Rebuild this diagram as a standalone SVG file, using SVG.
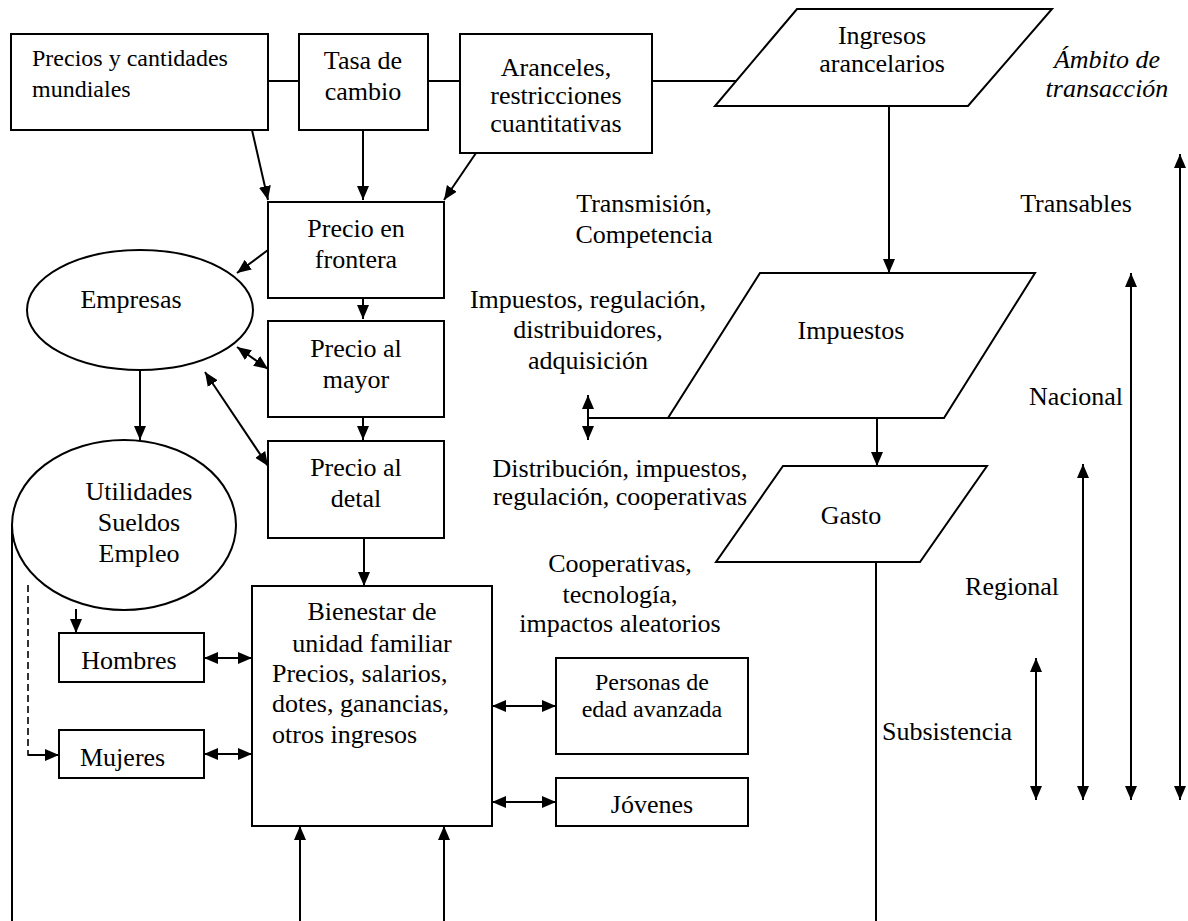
<svg xmlns="http://www.w3.org/2000/svg" width="1188" height="921" viewBox="0 0 1188 921">
<style>
  .box { fill: #fff; stroke: #000; stroke-width: 2; }
  .ln { fill: none; stroke: #000; stroke-width: 2; }
  .arr { fill: none; stroke: #000; stroke-width: 2; marker-end: url(#ah); }
  .dbl { fill: none; stroke: #000; stroke-width: 2; marker-start: url(#ah); marker-end: url(#ah); }
  .dash { fill: none; stroke: #000; stroke-width: 1.6; stroke-dasharray: 7 4; }
  text { font-family: "Liberation Serif", "Times New Roman", serif; font-size: 26px; fill: #000; }
  .c { text-anchor: middle; }
  .sm { font-size: 24px; }
  .it { font-style: italic; }
</style>
<defs>
  <marker id="ah" markerUnits="userSpaceOnUse" markerWidth="15" markerHeight="13" refX="14" refY="6" orient="auto-start-reverse">
    <path d="M0,0 L14,6 L0,12 z" fill="#000"/>
  </marker>
</defs>

<g id="connectors">
  <line class="ln" x1="268" y1="81" x2="299" y2="81"/>
  <line class="ln" x1="428" y1="81" x2="460" y2="81"/>
  <line class="ln" x1="652" y1="81" x2="736" y2="81"/>
  <line class="arr" x1="252" y1="130" x2="268" y2="200"/>
  <line class="arr" x1="363" y1="130" x2="363" y2="200"/>
  <line class="arr" x1="476" y1="153" x2="444" y2="200"/>
  <line class="arr" x1="268" y1="250" x2="237" y2="273"/>
  <line class="arr" x1="363" y1="297" x2="363" y2="319"/>
  <line class="dbl" x1="237" y1="347" x2="268" y2="369"/>
  <line class="arr" x1="363" y1="417" x2="363" y2="440"/>
  <line class="dbl" x1="205" y1="372" x2="268" y2="466"/>
  <line class="arr" x1="140" y1="370" x2="140" y2="440"/>
  <line class="arr" x1="364" y1="538" x2="364" y2="586"/>
  <line class="ln" x1="12" y1="525" x2="12" y2="921"/>
  <polyline class="dash" points="28,585 28,755 42,755"/>
  <line class="arr" x1="28" y1="755" x2="59" y2="755"/>
  <line class="arr" x1="76" y1="609" x2="76" y2="633"/>
  <line class="dbl" x1="204" y1="658" x2="252" y2="658"/>
  <line class="dbl" x1="204" y1="754" x2="252" y2="754"/>
  <line class="dbl" x1="492" y1="706" x2="556" y2="706"/>
  <line class="dbl" x1="492" y1="802" x2="556" y2="802"/>
  <line class="arr" x1="300" y1="921" x2="300" y2="826"/>
  <line class="arr" x1="444" y1="921" x2="444" y2="826"/>
  <line class="arr" x1="889" y1="106" x2="889" y2="273"/>
  <line class="ln" x1="588" y1="418" x2="668" y2="418"/>
  <line class="dbl" x1="588" y1="395" x2="588" y2="440"/>
  <line class="arr" x1="877" y1="418" x2="877" y2="466"/>
  <line class="ln" x1="876" y1="562" x2="876" y2="921"/>
  <line class="dbl" x1="1180" y1="154" x2="1180" y2="800"/>
  <line class="dbl" x1="1131" y1="273" x2="1131" y2="800"/>
  <line class="dbl" x1="1083" y1="464" x2="1083" y2="800"/>
  <line class="dbl" x1="1036" y1="658" x2="1036" y2="800"/>
</g>

<g id="n-mundiales">
  <rect class="box" x="11" y="34" width="257" height="96"/>
  <text class="sm" x="32" y="66">Precios y cantidades</text>
  <text class="sm" x="32" y="97">mundiales</text>
</g>
<g id="n-tasa">
  <rect class="box" x="299" y="34" width="129" height="96"/>
  <text class="c" x="363" y="69">Tasa de</text>
  <text class="c" x="363" y="100">cambio</text>
</g>
<g id="n-aranceles">
  <rect class="box" x="460" y="34" width="192" height="119"/>
  <text class="c" x="556" y="76">Aranceles,</text>
  <text class="c" x="556" y="104">restricciones</text>
  <text class="c" x="556" y="132">cuantitativas</text>
</g>
<g id="n-ingresos">
  <polygon class="box" points="797,9 1052,9 968,106 715,106"/>
  <text class="c" x="882" y="44">Ingresos</text>
  <text class="c" x="882" y="72">arancelarios</text>
</g>
<g id="l-ambito">
  <text class="c it" x="1107" y="68">Ámbito de</text>
  <text class="c it" x="1107" y="97">transacción</text>
</g>
<g id="n-frontera">
  <rect class="box" x="268" y="202" width="176" height="96"/>
  <text class="c" x="356" y="237">Precio en</text>
  <text class="c" x="356" y="268">frontera</text>
</g>
<g id="n-mayor">
  <rect class="box" x="268" y="321" width="176" height="96"/>
  <text class="c" x="356" y="357">Precio al</text>
  <text class="c" x="356" y="388">mayor</text>
</g>
<g id="n-detal">
  <rect class="box" x="268" y="441" width="176" height="97"/>
  <text class="c" x="356" y="476">Precio al</text>
  <text class="c" x="356" y="507">detal</text>
</g>
<g id="n-empresas">
  <ellipse class="box" cx="140" cy="310" rx="113" ry="60"/>
  <text class="c" x="131" y="308">Empresas</text>
</g>
<g id="n-utilidades">
  <ellipse class="box" cx="124" cy="525" rx="112" ry="85"/>
  <text class="c" x="139" y="500">Utilidades</text>
  <text class="c" x="139" y="531">Sueldos</text>
  <text class="c" x="139" y="562">Empleo</text>
</g>
<g id="n-hombres">
  <rect class="box" x="59" y="633" width="145" height="49"/>
  <text class="c" x="129" y="669">Hombres</text>
</g>
<g id="n-mujeres">
  <rect class="box" x="59" y="730" width="145" height="48"/>
  <text x="80" y="766">Mujeres</text>
</g>
<g id="n-bienestar">
  <rect class="box" x="252" y="586" width="240" height="240"/>
  <text class="c" x="372" y="620">Bienestar de</text>
  <text class="c" x="372" y="652">unidad familiar</text>
  <text x="272" y="682">Precios, salarios,</text>
  <text x="272" y="712">dotes, ganancias,</text>
  <text x="272" y="743">otros ingresos</text>
</g>
<g id="n-personas">
  <rect class="box" x="556" y="658" width="192" height="96"/>
  <text class="c sm" x="652" y="690">Personas de</text>
  <text class="c sm" x="652" y="717">edad avanzada</text>
</g>
<g id="n-jovenes">
  <rect class="box" x="556" y="778" width="192" height="48"/>
  <text class="c" x="652" y="813">Jóvenes</text>
</g>
<g id="n-impuestos">
  <polygon class="box" points="760,273 1035,273 944,418 668,418"/>
  <text class="c" x="851" y="339">Impuestos</text>
</g>
<g id="n-gasto">
  <polygon class="box" points="783,466 987,466 920,562 716,562"/>
  <text class="c" x="851" y="524">Gasto</text>
</g>
<g id="labels">
  <text class="c" x="644" y="212">Transmisión,</text>
  <text class="c" x="644" y="243">Competencia</text>
  <text class="c" x="588" y="308">Impuestos, regulación,</text>
  <text class="c" x="588" y="338">distribuidores,</text>
  <text class="c" x="588" y="369">adquisición</text>
  <text class="c" x="620" y="477">Distribución, impuestos,</text>
  <text class="c" x="620" y="505">regulación, cooperativas</text>
  <text class="c" x="620" y="572">Cooperativas,</text>
  <text class="c" x="620" y="603">tecnología,</text>
  <text class="c" x="620" y="632">impactos aleatorios</text>
  <text class="c" x="1076" y="212">Transables</text>
  <text class="c" x="1076" y="405">Nacional</text>
  <text class="c" x="1012" y="595">Regional</text>
  <text class="c" x="947" y="740">Subsistencia</text>
</g>
</svg>
